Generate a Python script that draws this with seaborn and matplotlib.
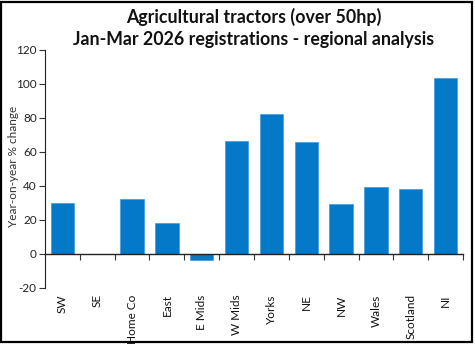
import matplotlib
matplotlib.use("Agg")
import matplotlib.pyplot as plt
import seaborn as sns
import pandas as pd
from matplotlib.patches import Rectangle

regions = ["SW", "SE", "Home Co", "East", "E Mids", "W Mids", "Yorks", "NE", "NW", "Wales", "Scotland", "NI"]
changes = [30.2, 0.0, 32.4, 18.2, -3.5, 66.2, 82.4, 65.6, 29.2, 39.2, 38.0, 103.5]
yticks = [-20, 0, 20, 40, 60, 80, 100, 120]

df = pd.DataFrame({"region": regions, "change": changes})

sns.set_style("white")
plt.rcParams["font.family"] = ["Lato", "DejaVu Sans"]

fig = plt.figure(figsize=(4.75, 3.44), dpi=100)
ax = fig.add_axes([45/475, 1-288/344, (463-45)/475, (288-50)/344])

sns.barplot(data=df, x="region", y="change", color="#0479C8", width=0.67,
            saturation=1, edgecolor="#3d9be0", linewidth=0.5, ax=ax)

ax.set_ylim(-20, 120)
ax.set_xlim(-0.5, len(regions) - 0.5)
ax.set_yticks(yticks)
ax.set_yticklabels([str(v) for v in yticks], fontsize=8.5, color="#222222")
ax.tick_params(axis="y", direction="out", length=4, width=0.8, color="#333333", pad=2, left=True)

# category axis at zero with ticks between categories
ax.spines["bottom"].set_position(("data", 0))
ax.spines["bottom"].set_color("#222222")
ax.spines["bottom"].set_linewidth(1.0)
ax.spines["left"].set_color("#222222")
ax.spines["left"].set_linewidth(0.8)
ax.spines["top"].set_visible(False)
ax.spines["right"].set_visible(False)

ax.set_xticks(range(len(regions)))
ax.set_xticklabels(regions, rotation=90, fontsize=8.5, color="#111111", va="top")
ax.tick_params(axis="x", which="major", length=0, pad=29)
ax.set_xticks([i + 0.5 for i in range(len(regions))], minor=True)
ax.tick_params(axis="x", which="minor", direction="out", length=4, width=0.8, color="#333333", bottom=True)

ax.set_xlabel("")
ax.set_ylabel("Year-on-year % change", fontsize=8.5, color="#333333")
ax.yaxis.set_label_coords(-0.062, 0.51)

fig.text(254/475, 1-28/344, "Agricultural tractors (over 50hp)\nJan-Mar 2026 registrations - regional analysis",
         ha="center", va="center", fontsize=12.8, fontweight="bold", linespacing=1.38, color="#111111")

fig.patches.append(Rectangle((0.002, 1-341.5/344), 471.5/475, 340/344, transform=fig.transFigure,
                             fill=False, edgecolor="black", linewidth=1.6))

fig.savefig("out.png", dpi=100)
